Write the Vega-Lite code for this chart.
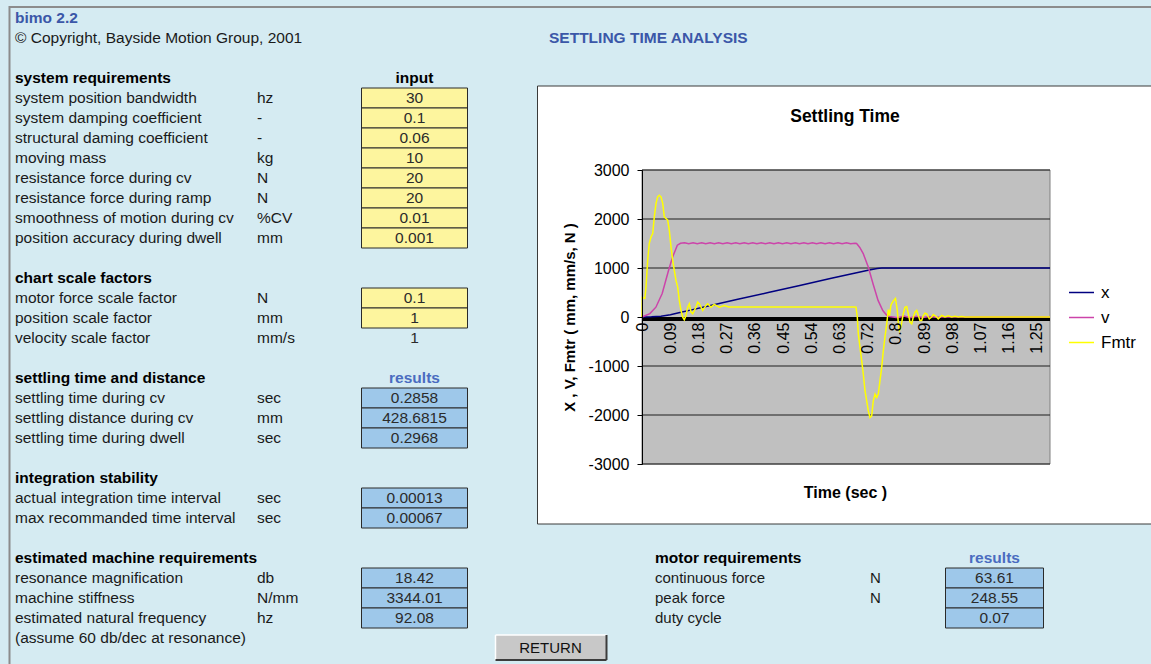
{
"$schema":"https://vega.github.io/schema/vega-lite/v6.json",
"width":1151,"height":664,"padding":0,"autosize":{"type":"none"},
"background":"#d5ebf2",
"config":{"view":{"stroke":null},"font":"Liberation Sans","text":{"font":"Liberation Sans","baseline":"middle","fontSize":15.5,"color":"#1a1a1a"},"axis":{"labelFont":"Liberation Sans","titleFont":"Liberation Sans"},"legend":{"labelFont":"Liberation Sans"}},
"datasets":{
"sheet":[
{"row":3,"side":"L","kind":"header","label":"system requirements","unit":"","value":""},
{"row":4,"side":"L","kind":"input","label":"system position bandwidth","unit":"hz","value":"30"},
{"row":5,"side":"L","kind":"input","label":"system damping coefficient","unit":"-","value":"0.1"},
{"row":6,"side":"L","kind":"input","label":"structural daming coefficient","unit":"-","value":"0.06"},
{"row":7,"side":"L","kind":"input","label":"moving mass","unit":"kg","value":"10"},
{"row":8,"side":"L","kind":"input","label":"resistance force during cv","unit":"N","value":"20"},
{"row":9,"side":"L","kind":"input","label":"resistance force during ramp","unit":"N","value":"20"},
{"row":10,"side":"L","kind":"input","label":"smoothness of motion during cv","unit":"%CV","value":"0.01"},
{"row":11,"side":"L","kind":"input","label":"position accuracy during dwell","unit":"mm","value":"0.001"},
{"row":13,"side":"L","kind":"header","label":"chart scale factors","unit":"","value":""},
{"row":14,"side":"L","kind":"input","label":"motor force scale factor","unit":"N","value":"0.1"},
{"row":15,"side":"L","kind":"input","label":"position scale factor","unit":"mm","value":"1"},
{"row":16,"side":"L","kind":"plain","label":"velocity scale factor","unit":"mm/s","value":"1"},
{"row":18,"side":"L","kind":"header","label":"settling time and distance","unit":"","value":""},
{"row":19,"side":"L","kind":"result","label":"settling time during cv","unit":"sec","value":"0.2858"},
{"row":20,"side":"L","kind":"result","label":"settling distance during cv","unit":"mm","value":"428.6815"},
{"row":21,"side":"L","kind":"result","label":"settling time during  dwell","unit":"sec","value":"0.2968"},
{"row":23,"side":"L","kind":"header","label":"integration stability","unit":"","value":""},
{"row":24,"side":"L","kind":"result","label":"actual integration time interval","unit":"sec","value":"0.00013"},
{"row":25,"side":"L","kind":"result","label":"max recommanded time interval","unit":"sec","value":"0.00067"},
{"row":27,"side":"L","kind":"header","label":"estimated machine requirements","unit":"","value":""},
{"row":28,"side":"L","kind":"result","label":"resonance magnification","unit":"db","value":"18.42"},
{"row":29,"side":"L","kind":"result","label":"machine stiffness","unit":"N/mm","value":"3344.01"},
{"row":30,"side":"L","kind":"result","label":"estimated  natural frequency","unit":"hz","value":"92.08"},
{"row":31,"side":"L","kind":"note","label":"(assume 60 db/dec at resonance)","unit":"","value":""},
{"row":27,"side":"R","kind":"header","label":"motor requirements","unit":"","value":""},
{"row":28,"side":"R","kind":"result","label":"continuous force","unit":"N","value":"63.61"},
{"row":29,"side":"R","kind":"result","label":"peak force","unit":"N","value":"248.55"},
{"row":30,"side":"R","kind":"result","label":"duty cycle","unit":"","value":"0.07"}
],
"grid":[{"g":3000},{"g":2000},{"g":1000},{"g":-1000},{"g":-2000},{"g":-3000}],
"curves":[
{"series":"x","t":0,"value":0},{"series":"x","t":0.03,"value":3},{"series":"x","t":0.06,"value":15},{"series":"x","t":0.09,"value":45},{"series":"x","t":0.12,"value":90},{"series":"x","t":0.15,"value":135},{"series":"x","t":0.2,"value":210},{"series":"x","t":0.3,"value":355},{"series":"x","t":0.4,"value":500},{"series":"x","t":0.5,"value":645},{"series":"x","t":0.6,"value":790},{"series":"x","t":0.68,"value":905},{"series":"x","t":0.72,"value":960},{"series":"x","t":0.745,"value":990},{"series":"x","t":0.76,"value":1000},{"series":"x","t":1.2928,"value":1000},
{"series":"v","t":0,"value":0},{"series":"v","t":0.025,"value":70},{"series":"v","t":0.044,"value":200},{"series":"v","t":0.064,"value":480},{"series":"v","t":0.084,"value":950},{"series":"v","t":0.097,"value":1225},{"series":"v","t":0.112,"value":1465},{"series":"v","t":0.122,"value":1505},
{"series":"v","t":0.135,"value":1515},{"series":"v","t":0.148,"value":1495},{"series":"v","t":0.162,"value":1515},{"series":"v","t":0.175,"value":1495},{"series":"v","t":0.189,"value":1515},{"series":"v","t":0.202,"value":1495},{"series":"v","t":0.216,"value":1515},{"series":"v","t":0.229,"value":1495},{"series":"v","t":0.243,"value":1515},{"series":"v","t":0.256,"value":1495},{"series":"v","t":0.27,"value":1515},{"series":"v","t":0.283,"value":1495},{"series":"v","t":0.297,"value":1515},{"series":"v","t":0.31,"value":1495},{"series":"v","t":0.324,"value":1515},{"series":"v","t":0.337,"value":1495},{"series":"v","t":0.351,"value":1515},{"series":"v","t":0.364,"value":1495},{"series":"v","t":0.378,"value":1515},{"series":"v","t":0.391,"value":1495},{"series":"v","t":0.405,"value":1515},{"series":"v","t":0.418,"value":1495},{"series":"v","t":0.432,"value":1515},{"series":"v","t":0.445,"value":1495},{"series":"v","t":0.459,"value":1515},{"series":"v","t":0.472,"value":1495},{"series":"v","t":0.486,"value":1515},{"series":"v","t":0.499,"value":1495},{"series":"v","t":0.513,"value":1515},{"series":"v","t":0.526,"value":1495},{"series":"v","t":0.54,"value":1515},{"series":"v","t":0.553,"value":1495},{"series":"v","t":0.567,"value":1515},{"series":"v","t":0.58,"value":1495},{"series":"v","t":0.594,"value":1515},{"series":"v","t":0.607,"value":1495},{"series":"v","t":0.621,"value":1515},{"series":"v","t":0.634,"value":1495},{"series":"v","t":0.648,"value":1515},{"series":"v","t":0.661,"value":1495},{"series":"v","t":0.675,"value":1505},
{"series":"v","t":0.68,"value":1500},{"series":"v","t":0.69,"value":1420},{"series":"v","t":0.701,"value":1294},{"series":"v","t":0.717,"value":1020},{"series":"v","t":0.732,"value":680},{"series":"v","t":0.748,"value":338},{"series":"v","t":0.763,"value":133},{"series":"v","t":0.775,"value":40},{"series":"v","t":0.784,"value":10},{"series":"v","t":0.795,"value":0},{"series":"v","t":0.81,"value":-15},{"series":"v","t":0.83,"value":20},{"series":"v","t":0.85,"value":-15},{"series":"v","t":0.87,"value":15},{"series":"v","t":0.89,"value":-10},{"series":"v","t":0.91,"value":8},{"series":"v","t":0.93,"value":-5},{"series":"v","t":0.95,"value":0},{"series":"v","t":1.2928,"value":0},
{"series":"Fmtr","t":0,"value":0},{"series":"Fmtr","t":0.001,"value":400},{"series":"Fmtr","t":0.009,"value":380},{"series":"Fmtr","t":0.0127,"value":610},{"series":"Fmtr","t":0.018,"value":1157},{"series":"Fmtr","t":0.023,"value":1500},{"series":"Fmtr","t":0.0285,"value":1634},{"series":"Fmtr","t":0.034,"value":1704},{"series":"Fmtr","t":0.039,"value":2044},{"series":"Fmtr","t":0.0444,"value":2318},{"series":"Fmtr","t":0.0497,"value":2453},{"series":"Fmtr","t":0.0548,"value":2486},{"series":"Fmtr","t":0.0602,"value":2453},{"series":"Fmtr","t":0.0656,"value":2318},{"series":"Fmtr","t":0.0707,"value":2044},{"series":"Fmtr","t":0.076,"value":2011},{"series":"Fmtr","t":0.0814,"value":1976},{"series":"Fmtr","t":0.0865,"value":1771},{"series":"Fmtr","t":0.0919,"value":1430},{"series":"Fmtr","t":0.0973,"value":1157},{"series":"Fmtr","t":0.1023,"value":952},{"series":"Fmtr","t":0.1077,"value":748},{"series":"Fmtr","t":0.1131,"value":610},{"series":"Fmtr","t":0.1182,"value":338},{"series":"Fmtr","t":0.1236,"value":133},{"series":"Fmtr","t":0.129,"value":-4},{"series":"Fmtr","t":0.134,"value":-57},{"series":"Fmtr","t":0.1394,"value":31},{"series":"Fmtr","t":0.1448,"value":200},{"series":"Fmtr","t":0.1499,"value":270},{"series":"Fmtr","t":0.1553,"value":98},{"series":"Fmtr","t":0.1606,"value":66},{"series":"Fmtr","t":0.1711,"value":200},{"series":"Fmtr","t":0.1765,"value":303},{"series":"Fmtr","t":0.1816,"value":270},{"series":"Fmtr","t":0.1923,"value":133},{"series":"Fmtr","t":0.2028,"value":236},{"series":"Fmtr","t":0.2082,"value":270},{"series":"Fmtr","t":0.2186,"value":200},{"series":"Fmtr","t":0.2291,"value":256},{"series":"Fmtr","t":0.245,"value":200},{"series":"Fmtr","t":0.2608,"value":236},{"series":"Fmtr","t":0.275,"value":205},{"series":"Fmtr","t":0.675,"value":205},
{"series":"Fmtr","t":0.6781,"value":200},{"series":"Fmtr","t":0.6822,"value":0},{"series":"Fmtr","t":0.6854,"value":-344},{"series":"Fmtr","t":0.6907,"value":-618},{"series":"Fmtr","t":0.6961,"value":-891},{"series":"Fmtr","t":0.7012,"value":-1163},{"series":"Fmtr","t":0.7066,"value":-1505},{"series":"Fmtr","t":0.712,"value":-1710},{"series":"Fmtr","t":0.7171,"value":-1915},{"series":"Fmtr","t":0.7224,"value":-2052},{"series":"Fmtr","t":0.7278,"value":-2017},{"series":"Fmtr","t":0.7329,"value":-1710},{"series":"Fmtr","t":0.7383,"value":-1573},{"series":"Fmtr","t":0.7437,"value":-1642},{"series":"Fmtr","t":0.7487,"value":-1573},{"series":"Fmtr","t":0.7541,"value":-1300},{"series":"Fmtr","t":0.7595,"value":-1028},{"series":"Fmtr","t":0.7645,"value":-700},{"series":"Fmtr","t":0.77,"value":-400},{"series":"Fmtr","t":0.7753,"value":-150},{"series":"Fmtr","t":0.7804,"value":150},{"series":"Fmtr","t":0.7842,"value":30},{"series":"Fmtr","t":0.789,"value":250},{"series":"Fmtr","t":0.7962,"value":330},{"series":"Fmtr","t":0.8032,"value":380},{"series":"Fmtr","t":0.809,"value":133},{"series":"Fmtr","t":0.812,"value":-106},{"series":"Fmtr","t":0.8156,"value":-276},{"series":"Fmtr","t":0.82,"value":-208},{"series":"Fmtr","t":0.824,"value":-72},{"series":"Fmtr","t":0.8279,"value":66},{"series":"Fmtr","t":0.8333,"value":200},{"series":"Fmtr","t":0.8387,"value":215},{"series":"Fmtr","t":0.8438,"value":66},{"series":"Fmtr","t":0.8492,"value":-106},{"series":"Fmtr","t":0.8546,"value":-140},{"series":"Fmtr","t":0.8596,"value":0},{"series":"Fmtr","t":0.865,"value":98},{"series":"Fmtr","t":0.8704,"value":133},{"series":"Fmtr","t":0.8755,"value":31},{"series":"Fmtr","t":0.8808,"value":-72},{"series":"Fmtr","t":0.8862,"value":-72},{"series":"Fmtr","t":0.8913,"value":31},{"series":"Fmtr","t":0.8967,"value":78},{"series":"Fmtr","t":0.902,"value":66},{"series":"Fmtr","t":0.9103,"value":-37},{"series":"Fmtr","t":0.9179,"value":0},{"series":"Fmtr","t":0.923,"value":51},{"series":"Fmtr","t":0.9338,"value":0},{"series":"Fmtr","t":0.9388,"value":-37},{"series":"Fmtr","t":0.9496,"value":31},{"series":"Fmtr","t":0.96,"value":0},{"series":"Fmtr","t":0.9705,"value":25},{"series":"Fmtr","t":0.9813,"value":0},{"series":"Fmtr","t":0.9918,"value":16},{"series":"Fmtr","t":1.0022,"value":0},{"series":"Fmtr","t":1.013,"value":10},{"series":"Fmtr","t":1.0234,"value":0},{"series":"Fmtr","t":1.2928,"value":0}
]
},
"layer":[
{"data":{"name":"sheet"},
"layer":[
{"data":{"values":[{}]},"mark":{"type":"rect","fillOpacity":0,"stroke":"#8c8c8c","strokeWidth":2},"encoding":{"x":{"datum":9.5,"type":"quantitative","scale":{"domain":[0,1151],"nice":false,"zero":false},"axis":null},"x2":{"datum":1200},"y":{"datum":-0.55,"type":"quantitative","scale":{"domain":[-0.9,32.3],"reverse":true,"nice":false,"zero":false},"axis":null},"y2":{"datum":40}}},
{"data":{"values":[{}]},"mark":{"type":"rect","fill":"#ffffff","stroke":"#3a3a3a","strokeWidth":1},"encoding":{"x":{"datum":537.5,"type":"quantitative","scale":{"domain":[0,1151],"nice":false,"zero":false},"axis":null},"x2":{"datum":1160},"y":{"datum":3.4,"type":"quantitative","scale":{"domain":[-0.9,32.3],"reverse":true,"nice":false,"zero":false},"axis":null},"y2":{"datum":25.3}}},
{"transform":[{"filter":"datum.side=='L' && (datum.kind=='input' || datum.kind=='result')"}],"mark":{"type":"rect","yOffset":-10,"y2Offset":10,"stroke":"#2a2a2a","strokeWidth":1},"encoding":{"x":{"datum":361.5,"type":"quantitative","scale":{"domain":[0,1151],"nice":false,"zero":false},"axis":null},"x2":{"datum":467.5},"y":{"field":"row","type":"quantitative","scale":{"domain":[-0.9,32.3],"reverse":true,"nice":false,"zero":false},"axis":null},"y2":{"field":"row"},"fill":{"condition":{"test":"datum.kind=='input'","value":"#fdf59e"},"value":"#9ec8ea"}}},
{"transform":[{"filter":"datum.side=='R' && datum.kind=='result'"}],"mark":{"type":"rect","yOffset":-10,"y2Offset":10,"stroke":"#2a2a2a","strokeWidth":1,"fill":"#9ec8ea"},"encoding":{"x":{"datum":945.5,"type":"quantitative","scale":{"domain":[0,1151],"nice":false,"zero":false},"axis":null},"x2":{"datum":1043.5},"y":{"field":"row","type":"quantitative","scale":{"domain":[-0.9,32.3],"reverse":true,"nice":false,"zero":false},"axis":null},"y2":{"field":"row"}}},
{"transform":[{"filter":"datum.side=='L' && datum.kind!='header'"}],"mark":{"type":"text","align":"left"},"encoding":{"x":{"datum":15,"type":"quantitative","scale":{"domain":[0,1151],"nice":false,"zero":false},"axis":null},"y":{"field":"row","type":"quantitative","scale":{"domain":[-0.9,32.3],"reverse":true,"nice":false,"zero":false},"axis":null},"text":{"field":"label"}}},
{"transform":[{"filter":"datum.side=='L' && datum.kind=='header'"}],"mark":{"type":"text","align":"left","fontWeight":"bold","color":"#000000"},"encoding":{"x":{"datum":15,"type":"quantitative","scale":{"domain":[0,1151],"nice":false,"zero":false},"axis":null},"y":{"field":"row","type":"quantitative","scale":{"domain":[-0.9,32.3],"reverse":true,"nice":false,"zero":false},"axis":null},"text":{"field":"label"}}},
{"transform":[{"filter":"datum.side=='L'"}],"mark":{"type":"text","align":"left"},"encoding":{"x":{"datum":257,"type":"quantitative","scale":{"domain":[0,1151],"nice":false,"zero":false},"axis":null},"y":{"field":"row","type":"quantitative","scale":{"domain":[-0.9,32.3],"reverse":true,"nice":false,"zero":false},"axis":null},"text":{"field":"unit"}}},
{"transform":[{"filter":"datum.side=='L'"}],"mark":{"type":"text","align":"center","color":"#2b2b2b"},"encoding":{"x":{"datum":414.5,"type":"quantitative","scale":{"domain":[0,1151],"nice":false,"zero":false},"axis":null},"y":{"field":"row","type":"quantitative","scale":{"domain":[-0.9,32.3],"reverse":true,"nice":false,"zero":false},"axis":null},"text":{"field":"value"}}},
{"transform":[{"filter":"datum.side=='R' && datum.kind!='header'"}],"mark":{"type":"text","align":"left","fontSize":15},"encoding":{"x":{"datum":655,"type":"quantitative","scale":{"domain":[0,1151],"nice":false,"zero":false},"axis":null},"y":{"field":"row","type":"quantitative","scale":{"domain":[-0.9,32.3],"reverse":true,"nice":false,"zero":false},"axis":null},"text":{"field":"label"}}},
{"transform":[{"filter":"datum.side=='R' && datum.kind=='header'"}],"mark":{"type":"text","align":"left","fontWeight":"bold","color":"#000000"},"encoding":{"x":{"datum":655,"type":"quantitative","scale":{"domain":[0,1151],"nice":false,"zero":false},"axis":null},"y":{"field":"row","type":"quantitative","scale":{"domain":[-0.9,32.3],"reverse":true,"nice":false,"zero":false},"axis":null},"text":{"field":"label"}}},
{"transform":[{"filter":"datum.side=='R'"}],"mark":{"type":"text","align":"left","fontSize":15},"encoding":{"x":{"datum":870,"type":"quantitative","scale":{"domain":[0,1151],"nice":false,"zero":false},"axis":null},"y":{"field":"row","type":"quantitative","scale":{"domain":[-0.9,32.3],"reverse":true,"nice":false,"zero":false},"axis":null},"text":{"field":"unit"}}},
{"transform":[{"filter":"datum.side=='R'"}],"mark":{"type":"text","align":"center","color":"#2b2b2b"},"encoding":{"x":{"datum":994.5,"type":"quantitative","scale":{"domain":[0,1151],"nice":false,"zero":false},"axis":null},"y":{"field":"row","type":"quantitative","scale":{"domain":[-0.9,32.3],"reverse":true,"nice":false,"zero":false},"axis":null},"text":{"field":"value"}}},
{"data":{"values":[{"row":3,"t":"input"}]},"mark":{"type":"text","align":"center","fontWeight":"bold","color":"#000000"},"encoding":{"x":{"datum":414.5,"type":"quantitative","scale":{"domain":[0,1151],"nice":false,"zero":false},"axis":null},"y":{"field":"row","type":"quantitative","scale":{"domain":[-0.9,32.3],"reverse":true,"nice":false,"zero":false},"axis":null},"text":{"field":"t"}}},
{"data":{"values":[{"row":18,"t":"results"}]},"mark":{"type":"text","align":"center","fontWeight":"bold","color":"#4a6cc0"},"encoding":{"x":{"datum":414.5,"type":"quantitative","scale":{"domain":[0,1151],"nice":false,"zero":false},"axis":null},"y":{"field":"row","type":"quantitative","scale":{"domain":[-0.9,32.3],"reverse":true,"nice":false,"zero":false},"axis":null},"text":{"field":"t"}}},
{"data":{"values":[{"row":27,"t":"results"}]},"mark":{"type":"text","align":"center","fontWeight":"bold","color":"#4a6cc0"},"encoding":{"x":{"datum":994.5,"type":"quantitative","scale":{"domain":[0,1151],"nice":false,"zero":false},"axis":null},"y":{"field":"row","type":"quantitative","scale":{"domain":[-0.9,32.3],"reverse":true,"nice":false,"zero":false},"axis":null},"text":{"field":"t"}}},
{"data":{"values":[{"row":0,"t":"bimo 2.2"}]},"mark":{"type":"text","align":"left","fontWeight":"bold","color":"#3b57a8"},"encoding":{"x":{"datum":15,"type":"quantitative","scale":{"domain":[0,1151],"nice":false,"zero":false},"axis":null},"y":{"field":"row","type":"quantitative","scale":{"domain":[-0.9,32.3],"reverse":true,"nice":false,"zero":false},"axis":null},"text":{"field":"t"}}},
{"data":{"values":[{"row":1,"t":"© Copyright, Bayside Motion Group, 2001"}]},"mark":{"type":"text","align":"left"},"encoding":{"x":{"datum":15,"type":"quantitative","scale":{"domain":[0,1151],"nice":false,"zero":false},"axis":null},"y":{"field":"row","type":"quantitative","scale":{"domain":[-0.9,32.3],"reverse":true,"nice":false,"zero":false},"axis":null},"text":{"field":"t"}}},
{"data":{"values":[{"row":1,"t":"SETTLING TIME ANALYSIS"}]},"mark":{"type":"text","align":"left","fontWeight":"bold","color":"#3b57a8"},"encoding":{"x":{"datum":549,"type":"quantitative","scale":{"domain":[0,1151],"nice":false,"zero":false},"axis":null},"y":{"field":"row","type":"quantitative","scale":{"domain":[-0.9,32.3],"reverse":true,"nice":false,"zero":false},"axis":null},"text":{"field":"t"}}},
{"data":{"values":[{"row":4.95,"t":"Settling Time"}]},"mark":{"type":"text","align":"center","fontWeight":"bold","fontSize":17.5,"color":"#000000"},"encoding":{"x":{"datum":845,"type":"quantitative","scale":{"domain":[0,1151],"nice":false,"zero":false},"axis":null},"y":{"field":"row","type":"quantitative","scale":{"domain":[-0.9,32.3],"reverse":true,"nice":false,"zero":false},"axis":null},"text":{"field":"t"}}},
{"data":{"values":[{}]},"mark":{"type":"rect","fill":"#c8c8c8"},"encoding":{"x":{"datum":495.5,"type":"quantitative","scale":{"domain":[0,1151],"nice":false,"zero":false},"axis":null},"x2":{"datum":606.5},"y":{"datum":30.85,"type":"quantitative","scale":{"domain":[-0.9,32.3],"reverse":true,"nice":false,"zero":false},"axis":null},"y2":{"datum":32.1}}},
{"data":{"values":[{}]},"mark":{"type":"rule","stroke":"#ffffff","strokeWidth":1.5},"encoding":{"x":{"datum":495.5,"type":"quantitative","scale":{"domain":[0,1151],"nice":false,"zero":false},"axis":null},"x2":{"datum":606.5},"y":{"datum":30.85,"type":"quantitative","scale":{"domain":[-0.9,32.3],"reverse":true,"nice":false,"zero":false},"axis":null}}},
{"data":{"values":[{}]},"mark":{"type":"rule","stroke":"#ffffff","strokeWidth":1.5},"encoding":{"x":{"datum":495.5,"type":"quantitative","scale":{"domain":[0,1151],"nice":false,"zero":false},"axis":null},"y":{"datum":30.85,"type":"quantitative","scale":{"domain":[-0.9,32.3],"reverse":true,"nice":false,"zero":false},"axis":null},"y2":{"datum":32.1}}},
{"data":{"values":[{}]},"mark":{"type":"rule","stroke":"#3c3c3c","strokeWidth":2},"encoding":{"x":{"datum":495.5,"type":"quantitative","scale":{"domain":[0,1151],"nice":false,"zero":false},"axis":null},"x2":{"datum":606.5},"y":{"datum":32.1,"type":"quantitative","scale":{"domain":[-0.9,32.3],"reverse":true,"nice":false,"zero":false},"axis":null}}},
{"data":{"values":[{}]},"mark":{"type":"rule","stroke":"#3c3c3c","strokeWidth":2},"encoding":{"x":{"datum":606.5,"type":"quantitative","scale":{"domain":[0,1151],"nice":false,"zero":false},"axis":null},"y":{"datum":30.85,"type":"quantitative","scale":{"domain":[-0.9,32.3],"reverse":true,"nice":false,"zero":false},"axis":null},"y2":{"datum":32.1}}},
{"data":{"values":[{"row":31.475,"t":"RETURN"}]},"mark":{"type":"text","align":"center","color":"#111111","fontSize":15},"encoding":{"x":{"datum":550.5,"type":"quantitative","scale":{"domain":[0,1151],"nice":false,"zero":false},"axis":null},"y":{"field":"row","type":"quantitative","scale":{"domain":[-0.9,32.3],"reverse":true,"nice":false,"zero":false},"axis":null},"text":{"field":"t"}}}
]},
{"layer":[
{"data":{"values":[{}]},"mark":{"type":"rect","fill":"#c0c0c0","stroke":"#808080","strokeWidth":1},"encoding":{
"x":{"datum":0,"type":"quantitative","scale":{"domain":[0,1.2928],"range":[642,1050],"nice":false,"zero":false},
"axis":{"orient":"bottom","offset":-347,"values":[0,0.0894,0.1788,0.2682,0.3576,0.447,0.5364,0.6258,0.7152,0.8046,0.894,0.9834,1.0728,1.1622,1.2516],"format":".2~f","labelAngle":270,"labelFontSize":16,"labelColor":"#000000","labelPadding":5,"domain":false,"ticks":false,"tickSize":0,"grid":false,"labelOverlap":false,"labelFlush":false,"labelBound":false,"title":"Time (sec )","titleFontSize":16,"titleFontWeight":"bold","titleColor":"#000000","titleX":845,"titleY":175,"titleBaseline":"middle","titleAlign":"center","titleAngle":0,"zindex":1}},
"x2":{"datum":1.2928},
"y":{"datum":-3000,"type":"quantitative","scale":{"domain":[-3000,3000],"range":[464,170],"nice":false,"zero":false},
"axis":{"orient":"left","offset":-642,"values":[-3000,-2000,-1000,0,1000,2000,3000],"labelExpr":"'' + datum.value","grid":false,"domain":true,"domainColor":"#000000","domainWidth":1,"ticks":true,"tickColor":"#000000","tickSize":5,"labelPadding":8,"labelFontSize":16,"labelColor":"#000000","labelOverlap":false,"labelFlush":false,"labelBound":false,"title":"X , V, Fmtr ( mm, mm/s, N )","titleFontSize":15,"titleFontWeight":"bold","titleColor":"#000000","titleX":-73,"titleY":317,"titleAngle":270,"titleBaseline":"middle","titleAlign":"center","zindex":1}},
"y2":{"datum":3000}}},
{"data":{"name":"grid"},"mark":{"type":"rule","stroke":"#1e1e1e","strokeWidth":1},"encoding":{"x":{"datum":0,"type":"quantitative","scale":{"domain":[0,1.2928],"range":[642,1050],"nice":false,"zero":false}},"x2":{"datum":1.2928},"y":{"field":"g","type":"quantitative","scale":{"domain":[-3000,3000],"range":[464,170],"nice":false,"zero":false}}}},
{"data":{"values":[{}]},"mark":{"type":"rule","stroke":"#000000","strokeWidth":4,"yOffset":2},"encoding":{"x":{"datum":0,"type":"quantitative","scale":{"domain":[0,1.2928],"range":[642,1050],"nice":false,"zero":false}},"x2":{"datum":1.2928},"y":{"datum":0,"type":"quantitative","scale":{"domain":[-3000,3000],"range":[464,170],"nice":false,"zero":false}}}},
{"data":{"name":"curves"},"mark":{"type":"line","strokeWidth":1.5},
"encoding":{
"x":{"field":"t","type":"quantitative","scale":{"domain":[0,1.2928],"range":[642,1050],"nice":false,"zero":false}},
"y":{"field":"value","type":"quantitative","scale":{"domain":[-3000,3000],"range":[464,170],"nice":false,"zero":false}},
"color":{"field":"series","type":"nominal","scale":{"domain":["x","v","Fmtr"],"range":["#000080","#cc44aa","#ffff00"]},
"legend":{"orient":"none","legendX":1068,"legendY":279,"title":null,"symbolType":"stroke","symbolSize":625,"symbolStrokeWidth":1.5,"labelFontSize":17,"labelColor":"#000000","labelOffset":6,"rowPadding":3,"padding":0,"zindex":1}}
}}
]}
],
"resolve":{"scale":{"x":"independent","y":"independent"}}
}
